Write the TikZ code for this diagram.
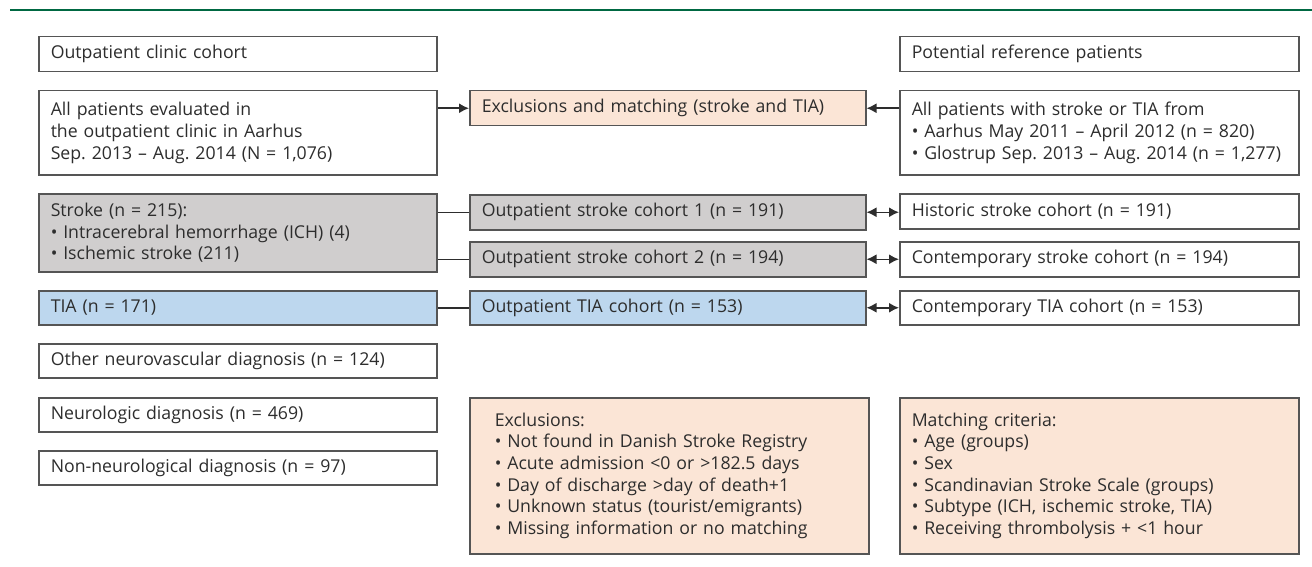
\documentclass[tikz,border=0pt]{standalone}
\usepackage{fontspec}
\setmainfont{Open Sans}
\usepackage{tikz}
\usetikzlibrary{arrows.meta}
\definecolor{rulegreen}{RGB}{0,104,66}
\definecolor{peach}{RGB}{251,229,214}
\definecolor{greyfill}{RGB}{208,206,206}
\definecolor{bluefill}{RGB}{189,215,238}
\definecolor{edgegrey}{RGB}{85,85,85}
\definecolor{textgrey}{RGB}{45,45,45}

\begin{document}
\frenchspacing
\begin{tikzpicture}[x=1pt,y=-1pt,
    box/.style={draw=edgegrey,line width=1.5pt,fill=white,anchor=north west,
        inner xsep=12pt,inner ysep=0pt,align=left,text=textgrey,
        font=\fontsize{17.7}{21.7}\selectfont},
    lbox/.style={box,text width=374pt,minimum height=#1},
    mbox/.style={box,text width=372pt,minimum height=#1},
    rbox/.style={box,text width=375pt,minimum height=#1},
    link/.style={draw=textgrey,line width=1.5pt},
    arr/.style={link,-{Latex[length=10pt,width=10pt]}},
    both/.style={link,{Latex[length=10pt,width=10pt]}-{Latex[length=10pt,width=10pt]}}]
        \useasboundingbox (0,0) rectangle (1312,567);
        \draw[rulegreen,line width=2.5pt] (10,10) -- (1312,10);

        %left column
        \node[lbox=35pt] (oc) at (38,36) {Outpatient clinic cohort};
        \node[lbox=84pt] (ap) at (38,90) {All patients evaluated in\\the outpatient clinic in Aarhus\\Sep. 2013 – Aug. 2014 (N = 1,076)};
        \node[lbox=78pt,fill=greyfill] (st) at (38,193) {Stroke (n = 215):\\• Intracerebral hemorrhage (ICH) (4)\\• Ischemic stroke (211)};
        \node[lbox=34pt,fill=bluefill] (ti) at (38,290) {TIA (n = 171)};
        \node[lbox=34pt] (ov) at (38,343) {Other neurovascular diagnosis (n = 124)};
        \node[lbox=34pt] (nd) at (38,397) {Neurologic diagnosis (n = 469)};
        \node[lbox=34pt] (nn) at (38,450) {Non-neurological diagnosis (n = 97)};

        %middle column
        \node[mbox=35pt,fill=peach] (em) at (469,90) {Exclusions and matching (stroke and TIA)};
        \node[mbox=35pt,fill=greyfill] (s1) at (469,194) {Outpatient stroke cohort 1 (n = 191)};
        \node[mbox=35pt,fill=greyfill] (s2) at (469,241) {Outpatient stroke cohort 2 (n = 194)};
        \node[mbox=34pt,fill=bluefill] (tc) at (469,290) {Outpatient TIA cohort (n = 153)};
        \node[box,inner xsep=25pt,text width=349pt,minimum height=156pt,fill=peach] (ex) at (469,397) {Exclusions:\\• Not found in Danish Stroke Registry\\• Acute admission <0 or >182.5 days\\• Day of discharge >day of death+1\\• Unknown status (tourist/emigrants)\\• Missing information or no matching};

        %right column
        \node[rbox=35pt] (pr) at (899,36) {Potential reference patients};
        \node[rbox=84pt] (ar) at (899,90) {All patients with stroke or TIA from\\• Aarhus May 2011 – April 2012 (n = 820)\\• Glostrup Sep. 2013 – Aug. 2014 (n~=~1,277)};
        \node[rbox=35pt] (hs) at (899,193) {Historic stroke cohort (n = 191)};
        \node[rbox=35pt] (cs) at (899,241) {Contemporary stroke cohort (n = 194)};
        \node[rbox=34pt] (ct) at (899,290) {Contemporary TIA cohort (n = 153)};
        \node[rbox=156pt,fill=peach] (mc) at (899,397) {Matching criteria:\\• Age (groups)\\• Sex\\• Scandinavian Stroke Scale (groups)\\• Subtype (ICH, ischemic stroke, TIA)\\• Receiving thrombolysis + <1 hour};

        %edges with arrows
        \path (ap.east |- em.west) edge[arr] (em.west);
        \path (ar.west |- em.east) edge[arr] (em.east);
        \path (st.east |- s1.west) edge[link] (s1.west);
        \path (st.east |- s2.west) edge[link] (s2.west);
        \path (ti.east |- tc.west) edge[link] (tc.west);
        \path (s1.east) edge[both] (s1.east -| hs.west);
        \path (s2.east) edge[both] (s2.east -| cs.west);
        \path (tc.east) edge[both] (tc.east -| ct.west);

\end{tikzpicture}
\end{document}
